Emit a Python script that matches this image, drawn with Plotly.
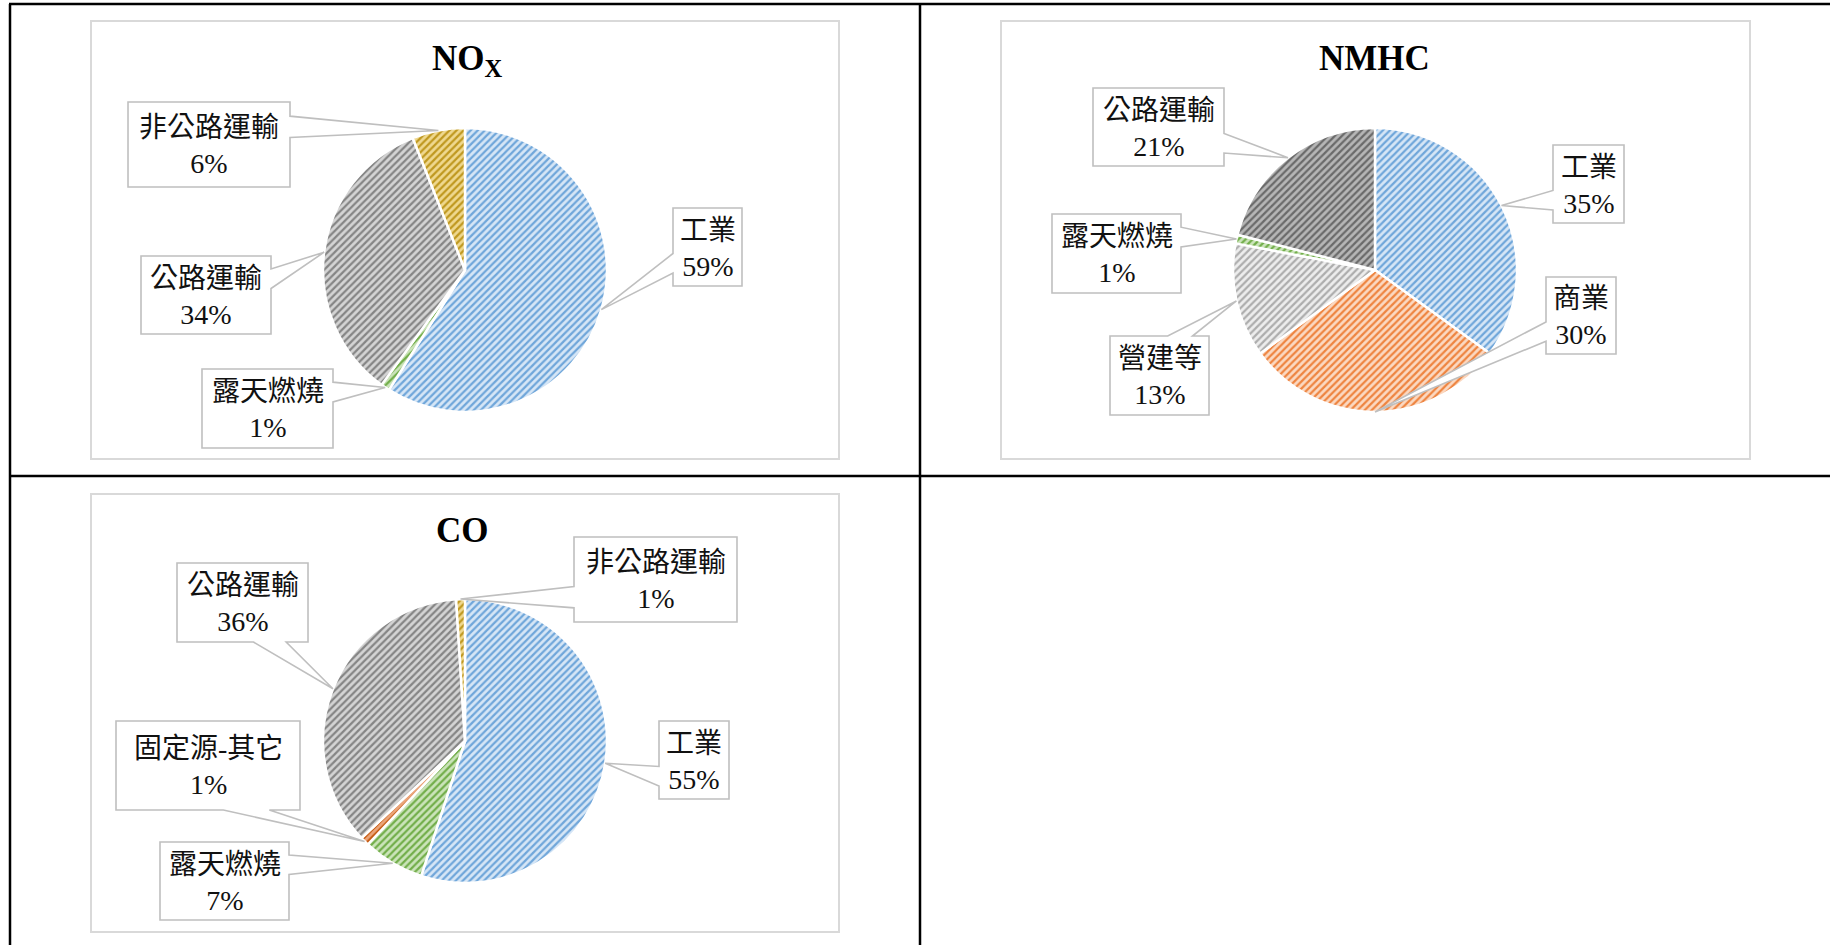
import math
import plotly.graph_objects as go

# ---- data -------------------------------------------------------------
NOX_CATS = ["工業", "露天燃燒", "公路運輸", "非公路運輸"]
NOX_PCT = [59, 1, 34, 6]

NMHC_CATS = ["工業", "商業", "營建等", "露天燃燒", "公路運輸"]
NMHC_PCT = [35, 30, 13, 1, 21]

CO_CATS = ["工業", "露天燃燒", "固定源-其它", "公路運輸", "非公路運輸"]
CO_PCT = [55, 7, 1, 36, 1]

# ---- canvas ---------------------------------------------------------------
W, H = 1830, 945


def X(px):
    return px / W


def Y(py):
    return 1 - py / H


# hatch colours (foreground, background) per slice
BLUE = ("#6FA6DA", "#D6E6F6")
GRAY = ("#858585", "#D4D4D4")
DKGRAY = ("#6A6A6A", "#B6B6B6")
LTGRAY = ("#ADADAD", "#EDEDED")
GOLD = ("#BF981F", "#EFD88F")
GREEN = ("#72AE4A", "#CBE4BA")
ORANGE = ("#EE8440", "#FBD9C2")
RUST = ("#C55A11", "#EBA57A")

LABEL_FONT = dict(family="Liberation Serif, Noto Sans CJK TC, serif", size=28, color="#111111")
TITLE_FONT = dict(family="Liberation Serif, Times New Roman, serif", size=35, color="#000000", weight="bold")

charts = [
    dict(
        title="NO<sub>X</sub>", title_xy=(468, 60),
        cats=NOX_CATS, vals=NOX_PCT,
        colors=[BLUE, GREEN, GRAY, GOLD],
        center=(465, 270), r=142,
        frame=(91, 21, 839, 459),
        boxes={
            "工業": (673, 208, 742, 286),
            "露天燃燒": (202, 369, 333, 448),
            "公路運輸": (141, 256, 271, 334),
            "非公路運輸": (128, 102, 290, 187),
        },
    ),
    dict(
        title="NMHC", title_xy=(1374, 58),
        cats=NMHC_CATS, vals=NMHC_PCT,
        colors=[BLUE, ORANGE, LTGRAY, GREEN, DKGRAY],
        center=(1375, 270), r=142,
        frame=(1001, 21, 1750, 459),
        boxes={
            "工業": (1553, 145, 1624, 223),
            "商業": (1546, 277, 1616, 354),
            "營建等": (1110, 336, 1209, 415),
            "露天燃燒": (1052, 214, 1181, 293),
            "公路運輸": (1093, 88, 1224, 166),
        },
    ),
    dict(
        title="CO", title_xy=(463, 530),
        cats=CO_CATS, vals=CO_PCT,
        colors=[BLUE, GREEN, RUST, GRAY, GOLD],
        center=(465, 741), r=142,
        frame=(91, 494, 839, 932),
        boxes={
            "工業": (659, 721, 729, 799),
            "露天燃燒": (160, 842, 289, 920),
            "固定源-其它": (116, 721, 300, 810),
            "公路運輸": (177, 563, 308, 642),
            "非公路運輸": (574, 537, 737, 622),
        },
    ),
]


def callout_path(box, tip):
    """Rectangle callout with a wedge pointing at `tip` (pixel coords)."""
    x0, y0, x1, y1 = box
    w, h = x1 - x0, y1 - y0
    cx, cy = (x0 + x1) / 2, (y0 + y1) / 2
    tx, ty = tip
    dxp, dyp = tx - cx, ty - cy
    if abs(dxp * h / w) > abs(dyp):
        ya, yb = (y0 + h * 7 / 12, y0 + h * 10 / 12) if dyp > 0 else (y0 + h * 2 / 12, y0 + h * 5 / 12)
        if dxp > 0:
            pts = [(x0, y0), (x1, y0), (x1, ya), (tx, ty), (x1, yb), (x1, y1), (x0, y1)]
        else:
            pts = [(x0, y0), (x1, y0), (x1, y1), (x0, y1), (x0, yb), (tx, ty), (x0, ya)]
    else:
        xa, xb = (x0 + w * 7 / 12, x0 + w * 10 / 12) if dxp > 0 else (x0 + w * 2 / 12, x0 + w * 5 / 12)
        if dyp > 0:
            pts = [(x0, y0), (x1, y0), (x1, y1), (xb, y1), (tx, ty), (xa, y1), (x0, y1)]
        else:
            pts = [(x0, y0), (xa, y0), (tx, ty), (xb, y0), (x1, y0), (x1, y1), (x0, y1)]
    return "M " + " L ".join(f"{X(px):.5f},{Y(py):.5f}" for px, py in pts) + " Z"


fig = go.Figure()
shapes = []
annotations = []

for ch in charts:
    cx, cy = ch["center"]
    r = ch["r"]
    fx0, fy0, fx1, fy1 = ch["frame"]
    # chart frame
    shapes.append(dict(type="rect", xref="paper", yref="paper",
                       x0=X(fx0), x1=X(fx1), y0=Y(fy1), y1=Y(fy0),
                       line=dict(color="#D9D9D9", width=2), fillcolor="rgba(0,0,0,0)", layer="below"))

    fig.add_trace(go.Pie(
        labels=ch["cats"], values=ch["vals"],
        sort=False, direction="clockwise", rotation=0,
        textinfo="none", hoverinfo="label+percent", showlegend=False,
        domain=dict(x=[X(cx - r), X(cx + r)], y=[Y(cy + r), Y(cy - r)]),
        marker=dict(
            colors=[c[1] for c in ch["colors"]],
            line=dict(color="#FFFFFF", width=2.5),
            pattern=dict(shape="/", fgcolor=[c[0] for c in ch["colors"]],
                         bgcolor=[c[1] for c in ch["colors"]],
                         size=5, solidity=0.45, fillmode="replace"),
        ),
    ))

    annotations.append(dict(text=ch["title"], x=X(ch["title_xy"][0]), y=Y(ch["title_xy"][1]),
                            xref="paper", yref="paper", showarrow=False,
                            xanchor="center", yanchor="middle", font=TITLE_FONT))

    total = sum(ch["vals"])
    acc = 0
    for cat, val in zip(ch["cats"], ch["vals"]):
        mid = (acc + val / 2) / total * 2 * math.pi
        acc += val
        tip = (cx + r * math.sin(mid), cy - r * math.cos(mid))
        box = ch["boxes"][cat]
        shapes.append(dict(type="path", xref="paper", yref="paper",
                           path=callout_path(box, tip),
                           line=dict(color="#BFBFBF", width=1.6), fillcolor="#FFFFFF", layer="above"))
        bx = (box[0] + box[2]) / 2
        by = (box[1] + box[3]) / 2
        annotations.append(dict(text=f"{cat}<br>{val}%", x=X(bx), y=Y(by + 1),
                                xref="paper", yref="paper", showarrow=False,
                                xanchor="center", yanchor="middle", align="center",
                                font=LABEL_FONT))

# outer table grid
grid = dict(color="#000000", width=2.5)
shapes += [
    dict(type="line", xref="paper", yref="paper", x0=X(9), x1=X(1830), y0=Y(4), y1=Y(4), line=grid),
    dict(type="line", xref="paper", yref="paper", x0=X(10), x1=X(10), y0=Y(4), y1=Y(945), line=grid),
    dict(type="line", xref="paper", yref="paper", x0=X(920), x1=X(920), y0=Y(4), y1=Y(945), line=grid),
    dict(type="line", xref="paper", yref="paper", x0=X(10), x1=X(1830), y0=Y(476), y1=Y(476), line=grid),
]

fig.update_layout(
    width=W, height=H,
    margin=dict(l=0, r=0, t=0, b=0),
    paper_bgcolor="#FFFFFF", plot_bgcolor="#FFFFFF",
    shapes=shapes, annotations=annotations,
)

fig.write_html("out.html")
